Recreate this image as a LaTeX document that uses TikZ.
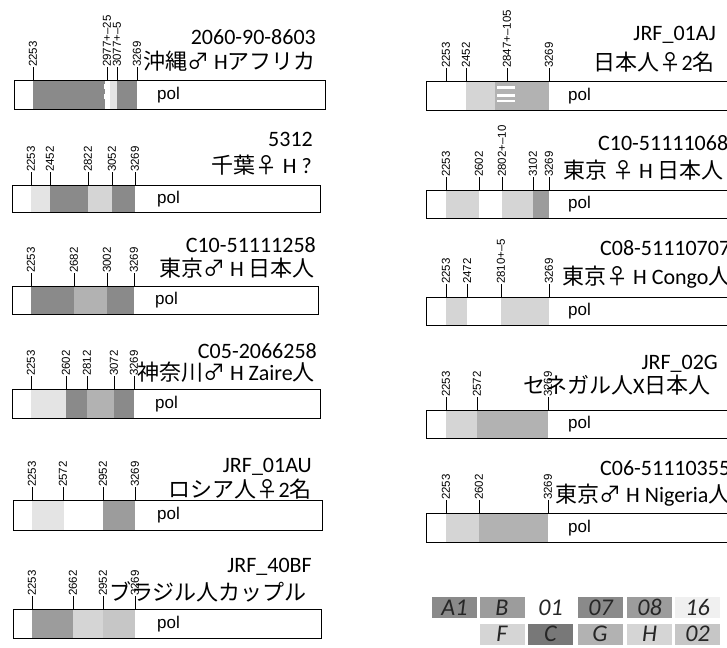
\documentclass[tikz,border=0pt]{standalone}
\usepackage{fontspec}
\setmainfont{Carlito}
\newfontfamily\cjk{Noto Sans CJK JP}
\newfontfamily\tickfont{Liberation Sans}
\definecolor{gA}{HTML}{8A8A8A}
\definecolor{gB}{HTML}{9C9C9C}
\definecolor{gM}{HTML}{B2B2B2}
\definecolor{gN}{HTML}{C6C6C6}
\definecolor{gL}{HTML}{D5D5D5}
\definecolor{gV}{HTML}{E4E4E4}
\definecolor{gC}{HTML}{787878}
\tikzset{
  barbox/.style={draw=black, line width=0.8pt, fill=none},
  tickline/.style={line width=0.7pt},
  tl/.style={rotate=90, anchor=west, inner sep=0pt, font=\tickfont\fontsize{11.5}{11.5}\selectfont},
  idlab/.style={anchor=base east, inner sep=0pt, font=\fontsize{22}{22}\selectfont},
  idlabw/.style={anchor=base west, inner sep=0pt, font=\fontsize{22}{22}\selectfont},
  desc/.style={anchor=east, inner sep=0pt, font=\fontsize{22}{22}\selectfont},
  descw/.style={anchor=west, inner sep=0pt, font=\fontsize{22}{22}\selectfont},
  pollab/.style={anchor=west, inner sep=0pt, font=\tickfont\fontsize{17}{17}\selectfont},
  legbox/.style={minimum width=45pt, minimum height=21pt, inner sep=0pt, draw=none, text=black!85, font=\itshape\fontsize{24}{24}\selectfont}
}
\begin{document}
\begin{tikzpicture}[x=1pt,y=-1pt]
\clip (0,0) rectangle (727,647);
\fill[white] (0,0) rectangle (727,647);

% ===================== LEFT 1 =====================
\fill[gA] (33,80) rectangle (105,109);
\fill[gA] (117,80) rectangle (137,109);
\fill[gV] (110,80) rectangle (117,109);
\fill[white] (104,84) rectangle (110,89);
\fill[white] (104,94) rectangle (110,99);
\fill[white] (107,80) rectangle (110,109);
\draw[barbox] (14,80) rectangle (325,109);
\node[pollab] (p1) at (157,95) {pol};
\node[tl] (l1a) at (33,67) {2253};
\node[tl] (l1b) at (107,67) {2977+–25};
\node[tl] (l1c) at (117,67) {3077+–5};
\node[tl] (l1d) at (137,67) {3269};
\foreach \n/\x in {l1a/33,l1b/107,l1c/117,l1d/137} \draw[tickline] (\x,80) -- (\n.west);
\node[idlab] (id1) at (316,45) {2060-90-8603};
\node[desc] (d1) at (316,61) {{\cjk 沖縄♂} H{\cjk アフリカ}};

% ===================== LEFT 2 =====================
\fill[gV] (31,185) rectangle (50,212);
\fill[gA] (50,185) rectangle (88,212);
\fill[gL] (88,185) rectangle (112,212);
\fill[gA] (112,185) rectangle (135,212);
\draw[barbox] (12,185) rectangle (320,212);
\node[pollab] (p2) at (157,199) {pol};
\node[tl] (l2a) at (31,172) {2253};
\node[tl] (l2b) at (50,172) {2452};
\node[tl] (l2c) at (88,172) {2822};
\node[tl] (l2d) at (112,172) {3052};
\node[tl] (l2e) at (135,172) {3269};
\foreach \n/\x in {l2a/31,l2b/50,l2c/88,l2d/112,l2e/135} \draw[tickline] (\x,185) -- (\n.west);
\node[idlab] (id2) at (313,147) {5312};
\node[desc] (d2) at (312,165) {{\cjk 千葉♀} H ?};

% ===================== LEFT 3 =====================
\fill[gA] (31,286) rectangle (74,314);
\fill[gM] (74,286) rectangle (107,314);
\fill[gA] (107,286) rectangle (134,314);
\draw[barbox] (12,286) rectangle (318,314);
\node[pollab] (p3) at (155,300) {pol};
\node[tl] (l3a) at (31,273) {2253};
\node[tl] (l3b) at (74,273) {2682};
\node[tl] (l3c) at (107,273) {3002};
\node[tl] (l3d) at (134,273) {3269};
\foreach \n/\x in {l3a/31,l3b/74,l3c/107,l3d/134} \draw[tickline] (\x,286) -- (\n.west);
\node[idlab] (id3) at (316,252) {C10-51111258};
\node[desc] (d3) at (315,268) {{\cjk 東京♂} H {\cjk 日本人}};

% ===================== LEFT 4 =====================
\fill[gV] (31,389) rectangle (66,418);
\fill[gA] (66,389) rectangle (87,418);
\fill[gM] (87,389) rectangle (114,418);
\fill[gA] (114,389) rectangle (134,418);
\draw[barbox] (12,389) rectangle (320,418);
\node[pollab] (p4) at (155,404) {pol};
\node[tl] (l4a) at (31,376) {2253};
\node[tl] (l4b) at (66,376) {2602};
\node[tl] (l4c) at (87,376) {2812};
\node[tl] (l4d) at (114,376) {3072};
\node[tl] (l4e) at (134,376) {3269};
\foreach \n/\x in {l4a/31,l4b/66,l4c/87,l4d/114,l4e/134} \draw[tickline] (\x,389) -- (\n.west);
\node[idlab] (id4) at (317,358) {C05-2066258};
\node[desc] (d4) at (315,372) {{\cjk 神奈川♂} H Zaire{\cjk 人}};

% ===================== LEFT 5 =====================
\fill[gV] (32,500) rectangle (64,530);
\fill[gB] (103,500) rectangle (135,530);
\draw[barbox] (13,500) rectangle (322,530);
\node[pollab] (p5) at (157,515) {pol};
\node[tl] (l5a) at (32,487) {2253};
\node[tl] (l5b) at (63,487) {2572};
\node[tl] (l5c) at (103,487) {2952};
\node[tl] (l5d) at (135,487) {3269};
\foreach \n/\x in {l5a/32,l5b/63,l5c/103,l5d/135} \draw[tickline] (\x,500) -- (\n.west);
\node[idlab] (id5) at (312,472) {JRF\_01AU};
\node[desc] (d5) at (312,489) {{\cjk ロシア人♀}2{\cjk 名}};

% ===================== LEFT 6 =====================
\fill[gB] (32,609) rectangle (73,638);
\fill[gL] (73,609) rectangle (103,638);
\fill[gN] (103,609) rectangle (135,638);
\draw[barbox] (13,609) rectangle (321,638);
\node[pollab] (p6) at (157,624) {pol};
\node[tl] (l6a) at (32,596) {2253};
\node[tl] (l6b) at (73,596) {2662};
\node[tl] (l6c) at (103,596) {2952};
\node[tl] (l6d) at (135,596) {3269};
\foreach \n/\x in {l6a/32,l6b/73,l6c/103,l6d/135} \draw[tickline] (\x,609) -- (\n.west);
\node[idlab] (id6) at (312,572) {JRF\_40BF};
\node[desc] (d6) at (307,592) {{\cjk ブラジル人カップル}};

% ===================== RIGHT 1 =====================
\fill[gL] (466,81) rectangle (495,110);
\fill[gM] (495,81) rectangle (549,110);
\fill[white] (497,86) rectangle (515,89);
\fill[white] (497,94) rectangle (515,97);
\fill[white] (497,100) rectangle (515,102);
\draw[barbox] (426,81) -- (740,81) (426,81) -- (426,110) -- (740,110);
\node[pollab] (q1) at (568,96) {pol};
\node[tl] (r1a) at (446,68) {2253};
\node[tl] (r1b) at (466,68) {2452};
\node[tl] (r1c) at (507,68) {2847+–105};
\node[tl] (r1d) at (549,68) {3269};
\foreach \n/\x in {r1a/446,r1b/466,r1c/507,r1d/549} \draw[tickline] (\x,81) -- (\n.west);
\node[idlab] (jd1) at (716,41) {JRF\_01AJ};
\node[desc] (e1) at (715,62) {{\cjk 日本人♀}2{\cjk 名}};

% ===================== RIGHT 2 =====================
\fill[gL] (446,190) rectangle (479,218);
\fill[gL] (502,190) rectangle (533,218);
\fill[gB] (533,190) rectangle (549,218);
\draw[barbox] (426,190) -- (740,190) (426,190) -- (426,218) -- (740,218);
\node[pollab] (q2) at (568,204) {pol};
\node[tl] (r2a) at (446,177) {2253};
\node[tl] (r2b) at (479,177) {2602};
\node[tl] (r2c) at (502,177) {2802+–10};
\node[tl] (r2d) at (533,177) {3102};
\node[tl] (r2e) at (549,177) {3269};
\foreach \n/\x in {r2a/446,r2b/479,r2c/502,r2d/533,r2e/549} \draw[tickline] (\x,190) -- (\n.west);
\node[idlabw] (jd2) at (598,151) {C10-51111068};
\node[descw] (e2) at (563,170) {{\cjk 東京 ♀} H {\cjk 日本人}};

% ===================== RIGHT 3 =====================
\fill[gL] (446,297) rectangle (467,325);
\fill[gL] (501,297) rectangle (549,325);
\draw[barbox] (426,297) -- (740,297) (426,297) -- (426,325) -- (740,325);
\node[pollab] (q3) at (568,311) {pol};
\node[tl] (r3a) at (446,284) {2253};
\node[tl] (r3b) at (467,284) {2472};
\node[tl] (r3c) at (501,284) {2810+–5};
\node[tl] (r3d) at (549,284) {3269};
\foreach \n/\x in {r3a/446,r3b/467,r3c/501,r3d/549} \draw[tickline] (\x,297) -- (\n.west);
\node[idlabw] (jd3) at (600,255) {C08-51110707};
\node[descw] (e3) at (562,277) {{\cjk 東京♀} H Congo{\cjk 人}};

% ===================== RIGHT 4 =====================
\fill[gL] (446,410) rectangle (477,438);
\fill[gM] (477,410) rectangle (548,438);
\draw[barbox] (426,410) -- (740,410) (426,410) -- (426,438) -- (740,438);
\node[pollab] (q4) at (568,424) {pol};
\node[tl] (r4a) at (446,397) {2253};
\node[tl] (r4b) at (477,397) {2572};
\node[tl] (r4c) at (548,397) {3269};
\foreach \n/\x in {r4a/446,r4b/477,r4c/548} \draw[tickline] (\x,410) -- (\n.west);
\node[idlab] (jd4) at (718,369) {JRF\_02G};
\node[descw] (e4) at (523,385) {{\cjk セネガル人}X{\cjk 日本人}};

% ===================== RIGHT 5 =====================
\fill[gL] (446,513) rectangle (479,542);
\fill[gM] (479,513) rectangle (548,542);
\draw[barbox] (426,513) -- (740,513) (426,513) -- (426,542) -- (740,542);
\node[pollab] (q5) at (568,528) {pol};
\node[tl] (r5a) at (446,500) {2253};
\node[tl] (r5b) at (479,500) {2602};
\node[tl] (r5c) at (548,500) {3269};
\foreach \n/\x in {r5a/446,r5b/479,r5c/548} \draw[tickline] (\x,513) -- (\n.west);
\node[idlabw] (jd5) at (600,475) {C06-51110355};
\node[descw] (e5) at (555,495) {{\cjk 東京♂} H Nigeria{\cjk 人}};

% ===================== LEGEND =====================
\node[legbox, fill=gA] (kA1) at (454.5,607.5) {A1};
\node[legbox, fill=gB] (kB) at (502,607.5) {B};
\node[legbox, fill=white] (k01) at (550.5,607.5) {01};
\node[legbox, fill=gA] (k07) at (600.5,607.5) {07};
\node[legbox, fill=gB] (k08) at (649.5,607.5) {08};
\node[legbox, fill=black!6] (k16) at (697.5,607.5) {16};
\node[legbox, fill=gL] (kF) at (502,634) {F};
\node[legbox, fill=gC] (kC) at (550.5,634) {C};
\node[legbox, fill=gM] (kG) at (600,634) {G};
\node[legbox, fill=gL] (kH) at (649.5,634) {H};
\node[legbox, fill=gN] (k02) at (697.5,634) {02};
\end{tikzpicture}
\end{document}
